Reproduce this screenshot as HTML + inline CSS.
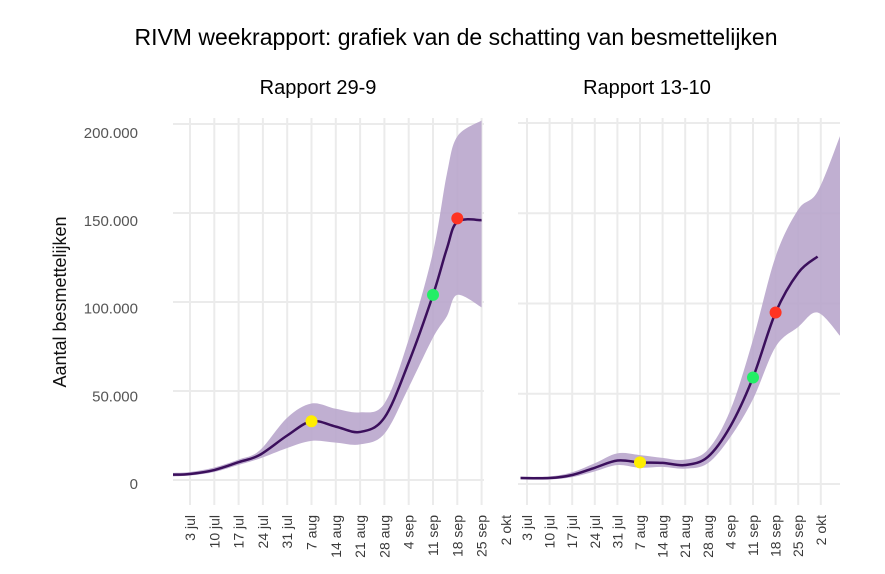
<!DOCTYPE html>
<html><head><meta charset="utf-8"><style>
body{margin:0;background:#fff;width:885px;height:574px;overflow:hidden}
svg{display:block;font-family:"Liberation Sans",sans-serif}
</style></head><body>
<svg id="chart" width="885" height="574" viewBox="0 0 885 574">
<text x="456" y="45" font-size="23" text-anchor="middle" fill="#000">RIVM weekrapport: grafiek van de schatting van besmettelijken</text>
<text x="318" y="94" font-size="20" text-anchor="middle" fill="#000">Rapport 29-9</text>
<text x="647" y="94" font-size="20" text-anchor="middle" fill="#000">Rapport 13-10</text>
<text transform="translate(66,302) rotate(-90)" font-size="18" text-anchor="middle" fill="#111">Aantal besmettelijken</text>
<g id="yticks"></g>
<g id="left"></g>
<g id="right"></g>
</svg>
<script>
const NS="http://www.w3.org/2000/svg";
const xLabels=["3 jul","10 jul","17 jul","24 jul","31 jul","7 aug","14 aug","21 aug","28 aug","4 sep","11 sep","18 sep","25 sep","2 okt"];
const yTickValues=[0,50000,100000,150000,200000];
const yTickLabels=["0","50.000","100.000","150.000","200.000"];
// left report (29-9): day offset from 3 jul
const leftDays=[-5,0,7,14,20,28,35,42,49,56,63,70,74,77,84];
const leftMid=[3000,3400,5600,10000,14000,25000,33000,30000,27000,35000,66000,104000,130000,145000,146000];
const leftUpper=[4000,4500,7000,11500,16500,35000,43000,40000,38000,43000,79000,128000,172000,193000,202000];
const leftLower=[2000,2500,4500,8500,12000,18000,22000,21000,20000,26000,52000,80000,92000,104000,97000];
const leftPoints=[[35,33000,"#ffee00","yellow-dot"],[70,104000,"#22ee66","green-dot"],[77,147000,"#ff3322","red-dot"]];
// right report (13-10)
const rightDays=[-2,7,14,21,28,35,42,49,56,63,70,77,84,90,97];
const rightMid=[3300,3300,5000,9000,13000,12000,11700,10500,15000,32000,59000,95000,117000,126000,null];
const rightUpper=[4000,4200,6500,11500,17000,16000,14500,13500,19000,41000,80000,126000,152000,162000,193000];
const rightLower=[2500,2500,3800,7000,10500,9000,9500,8500,11500,26000,47000,76000,87000,95000,82000];
const rightPoints=[[35,12000,"#ffee00","yellow-dot"],[70,59000,"#22ee66","green-dot"],[77,95000,"#ff3322","red-dot"]];

function el(tag,attrs,parent){const e=document.createElementNS(NS,tag);for(const k in attrs)e.setAttribute(k,attrs[k]);parent.appendChild(e);return e;}
function smooth(pts,start){
  let d=(start?"M":"L")+pts[0][0]+","+pts[0][1];
  for(let i=0;i<pts.length-1;i++){
    const p0=pts[Math.max(0,i-1)],p1=pts[i],p2=pts[i+1],p3=pts[Math.min(pts.length-1,i+2)];
    const c1=[p1[0]+(p2[0]-p0[0])/6,p1[1]+(p2[1]-p0[1])/6];
    const c2=[p2[0]-(p3[0]-p1[0])/6,p2[1]-(p3[1]-p1[1])/6];
    d+="C"+c1+" "+c2+" "+p2;
  }
  return d;
}
function panel(g,cfg){
  const xs=d=>cfg.x0+d*cfg.wk/7;
  const ys=v=>cfg.y0-v*cfg.py;
  const cp=el("clipPath",{id:cfg.id+"-clip"},g);
  el("rect",{x:cfg.left,y:118,width:cfg.right-cfg.left,height:380},cp);
  yTickValues.forEach(v=>{const l=el("line",{x1:cfg.left,x2:cfg.right,y1:ys(v),y2:ys(v),stroke:"#ebebeb","stroke-width":2},g);
    
    });
  xLabels.forEach((lab,i)=>{const x=xs(i*7);
    if(x>cfg.right+25)return;
    if(x<=cfg.right+2){
    const l=el("line",{x1:x,x2:x,y1:118,y2:505,stroke:"#ebebeb","stroke-width":2},g);
    
    }
    const t=el("text",{transform:`translate(${x+5},${515}) rotate(-90)`,"font-size":14,"text-anchor":"end",fill:"#3a3a3a"},g);
    t.textContent=lab;
    
    });
  const cg=el("g",{"clip-path":`url(#${cfg.id}-clip)`},g);
  const up=cfg.days.map((dd,i)=>[xs(dd),ys(cfg.upper[i])]);
  const lo=cfg.days.map((dd,i)=>[xs(dd),ys(cfg.lower[i])]).reverse();
  const band=el("path",{d:smooth(up,true)+smooth(lo,false)+"Z",fill:"#b9a6cc","fill-opacity":0.9},cg);
  
  
  const mp=[];cfg.days.forEach((dd,i)=>{if(cfg.mid[i]!=null)mp.push([xs(dd),ys(cfg.mid[i])]);});
  const line=el("path",{d:smooth(mp,true),fill:"none",stroke:"#3b0f5c","stroke-width":2.5,"stroke-linejoin":"round"},cg);
  
  
  cfg.points.forEach(p=>{const c=el("circle",{cx:xs(p[0]),cy:ys(p[1]),r:6,fill:p[2]},g);
    
    });
}
panel(document.getElementById("left"),{id:"l",x0:190,wk:24.3,y0:480,py:178/100000,left:173,right:484,days:leftDays,mid:leftMid,upper:leftUpper,lower:leftLower,points:leftPoints});
panel(document.getElementById("right"),{id:"r",x0:527,wk:22.6,y0:484,py:180.5/100000,left:518,right:840,days:rightDays,mid:rightMid,upper:rightUpper,lower:rightLower,points:rightPoints});
const yg=document.getElementById("yticks");
const yPos=v=>484-v*175.5/100000;
yTickValues.forEach((v,i)=>{const t=el("text",{x:138,y:yPos(v)+5,"font-size":15,"text-anchor":"end",fill:"#555"},yg);
  t.textContent=yTickLabels[i];
  
  });
</script>
</body></html>
